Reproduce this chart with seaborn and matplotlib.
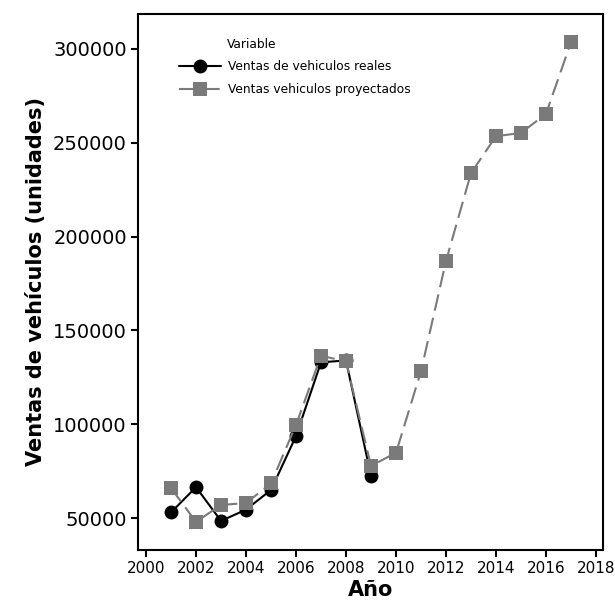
import matplotlib
matplotlib.use("Agg")
import matplotlib.pyplot as plt
import pandas as pd
import seaborn as sns

# Annual vehicle sales: actual vs projected
years_real = [2001, 2002, 2003, 2004, 2005, 2006, 2007, 2008, 2009]
ventas_reales = [53000, 66500, 48500, 54500, 65000, 93700, 133000, 134000, 72500]

years_proj = [2001, 2002, 2003, 2004, 2005, 2006, 2007, 2008, 2009, 2010,
              2011, 2012, 2013, 2014, 2015, 2016, 2017]
ventas_proy = [66000, 48000, 57000, 58000, 68500, 99600, 136500, 133500, 77800, 84800,
               128300, 187000, 233800, 253500, 255200, 265400, 303600]

label_real = "Ventas de vehiculos reales"
label_proj = "Ventas vehiculos proyectados"

df = pd.concat([
    pd.DataFrame({"Año": years_real, "Ventas": ventas_reales, "Variable": label_real}),
    pd.DataFrame({"Año": years_proj, "Ventas": ventas_proy, "Variable": label_proj}),
], ignore_index=True)

sns.set_theme(style="ticks")
plt.rcParams["font.family"] = ["DejaVu Sans"]
plt.rcParams["text.color"] = "black"
plt.rcParams["axes.labelcolor"] = "black"
plt.rcParams["xtick.color"] = "black"
plt.rcParams["ytick.color"] = "black"

fig = plt.figure(figsize=(6.15, 6.08), dpi=100)
ax = fig.add_axes([138 / 615, 58 / 608, 465 / 615, 536 / 608])

sns.lineplot(
    data=df, x="Año", y="Ventas", hue="Variable", style="Variable",
    palette={label_real: "black", label_proj: "#7a7a7a"},
    markers={label_real: "o", label_proj: "s"},
    dashes={label_real: "", label_proj: (8, 3.5)},
    markersize=10, markeredgewidth=0, linewidth=1.5, ax=ax,
)

ax.set_xlim(1999.68, 2018.28)
ax.set_ylim(33000, 318600)
ax.set_xticks(range(2000, 2019, 2))
ax.set_yticks(range(50000, 300001, 50000))
ax.tick_params(axis="x", labelsize=11, length=5, width=1.5, direction="out", pad=3)
ax.tick_params(axis="y", labelsize=14, length=5, width=1.5, direction="out", pad=3)
for s in ax.spines.values():
    s.set_linewidth(1.5)
    s.set_color("black")

ax.set_xlabel("Año", fontsize=15, fontweight="bold", labelpad=3)
ax.set_ylabel("Ventas de vehículos (unidades)", fontsize=15, fontweight="bold", labelpad=5)

leg = ax.legend(loc="upper left", bbox_to_anchor=(0.065, 0.935),
                frameon=False, fontsize=8.8, handlelength=3.4,
                handletextpad=0.55, labelspacing=0.85)
ax.text(227, 608 - 44, "Variable", transform=None, fontsize=8.8,
        ha="left", va="center", color="black")

fig.savefig("out.png", dpi=100)
